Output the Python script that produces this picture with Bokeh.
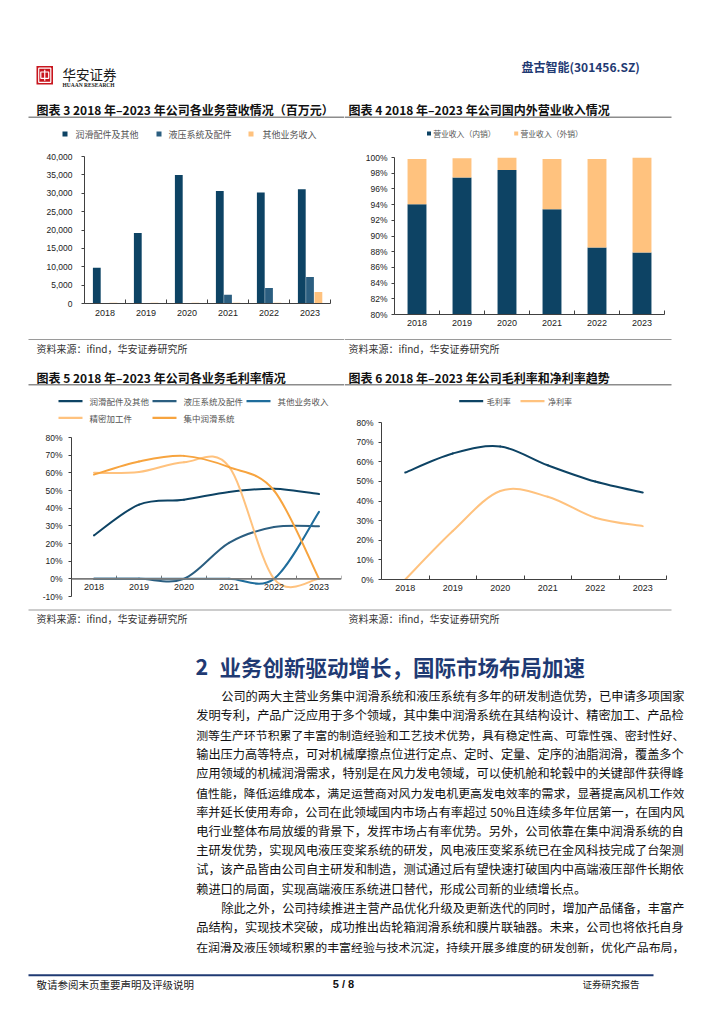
from bokeh.plotting import figure
from bokeh.models import (Range1d, FixedTicker, NumeralTickFormatter, PrintfTickFormatter,
                          Span, ColumnDataSource)
from bokeh.layouts import column, row
from bokeh.transform import dodge
from bokeh.core.properties import value
from bokeh.embed import file_html
from bokeh.resources import INLINE

# ---------------- data ----------------
years = [2018, 2019, 2020, 2021, 2022, 2023]
year_labels = ["2018", "2019", "2020", "2021", "2022", "2023"]

# 图表3 各业务营收（百万元）
rev_series = ["润滑配件及其他", "液压系统及配件", "其他业务收入"]
rev_lube = [9750, 19200, 35000, 30600, 30200, 31100]
rev_hydr = [0, 0, 0, 2400, 4200, 7200]
rev_other = [200, 200, 200, 200, 200, 3150]
rev_ticks = [0, 5000, 10000, 15000, 20000, 25000, 30000, 35000, 40000]

# 图表4 国内外营业收入占比（%）
sale_series = ["营业收入（内销）", "营业收入（外销）"]
sale_dom = [94.05, 97.45, 98.4, 93.4, 88.55, 87.9]
sale_exp = [5.75, 2.45, 1.6, 6.4, 11.25, 12.1]
share_ticks = [80, 82, 84, 86, 88, 90, 92, 94, 96, 98, 100]

# 图表5 各业务毛利率（%）
gm_series = ["润滑配件及其他", "液压系统及配件", "其他业务收入", "精密加工件", "集中润滑系统"]
gm_lube = [24.6, 42.0, 44.8, 49.2, 51.0, 48.0]
gm_hydr = [0.0, 0.0, 0.0, 20.4, 29.3, 29.8]
gm_other = [0.0, 0.0, 0.0, 0.0, 0.0, 37.9]
gm_prec = [60.0, 60.5, 66.0, 63.5, 0.0, 0.0]
gm_central = [59.0, 66.4, 69.6, 63.2, 50.0, 0.0]
gm_ticks = [-10, 0, 10, 20, 30, 40, 50, 60, 70, 80]

# 图表6 毛利率和净利率（%）
margin_series = ["毛利率", "净利率"]
gross_margin = [54.5, 64.2, 67.8, 58.2, 49.9, 44.3]
net_margin = [0.0, 24.7, 45.1, 42.2, 31.5, 27.2]
margin_ticks = [0, 10, 20, 30, 40, 50, 60, 70, 80]

body_lines = [
    "公司的两大主营业务集中润滑系统和液压系统有多年的研发制造优势，已申请多项国家",
    "发明专利，产品广泛应用于多个领域，其中集中润滑系统在其结构设计、精密加工、产品检",
    "测等生产环节积累了丰富的制造经验和工艺技术优势，具有稳定性高、可靠性强、密封性好、",
    "输出压力高等特点，可对机械摩擦点位进行定点、定时、定量、定序的油脂润滑，覆盖多个",
    "应用领域的机械润滑需求，特别是在风力发电领域，可以使机舱和轮毂中的关键部件获得峰",
    "值性能，降低运维成本，满足运营商对风力发电机更高发电效率的需求，显著提高风机工作效",
    "率并延长使用寿命，公司在此领域国内市场占有率超过 50%且连续多年位居第一，在国内风",
    "电行业整体布局放缓的背景下，发挥市场占有率优势。另外，公司依靠在集中润滑系统的自",
    "主研发优势，实现风电液压变桨系统的研发，风电液压变桨系统已在金风科技完成了台架测",
    "试，该产品皆由公司自主研发和制造，测试通过后有望快速打破国内中高端液压部件长期依",
    "赖进口的局面，实现高端液压系统进口替代，形成公司新的业绩增长点。",
    "除此之外，公司持续推进主营产品优化升级及更新迭代的同时，增加产品储备，丰富产",
    "品结构，实现技术突破，成功推出齿轮箱润滑系统和膜片联轴器。未来，公司也将依托自身",
    "在润滑及液压领域积累的丰富经验与技术沉淀，持续开展多维度的研发创新，优化产品布局，",
]
body_indent = [True, False, False, False, False, False, False, False, False, False, False,
               True, False, False]
body_justify = [True, True, True, True, True, True, True, True, True, True, False,
                True, True, True]

# ---------------- styles ----------------
NAVY = "#0d4364"
MID = "#2b5e80"
BLUE = "#1f6d9c"
LORANGE = "#ffc27e"
ORANGE = "#f7a43f"
TXT_NAVY = "#1f3a73"
AXC = "#404040"
GRAY_TXT = "#555555"
CJK = "Noto Sans CJK SC"
LAT = "Liberation Sans"

bounds = [y - 0.5 for y in years] + [years[-1] + 0.5]


def band(ox, oy, w, h):
    p = figure(width=w, height=h, x_range=Range1d(ox, ox + w), y_range=Range1d(oy + h, oy),
               output_backend="svg", toolbar_location=None, min_border=0, title=None,
               x_axis_type=None, y_axis_type=None, outline_line_color=None)
    return p


def put(p, x, y, s, size, color="#111111", bold=False, font=CJK, align="left"):
    p.text(x=[x], y=[y], text=[s], text_font=value(font), text_font_size=value(f"{size}px"),
           text_color=color, text_font_style="bold" if bold else "normal",
           text_align=align, text_baseline="middle")


def hline(p, x0, x1, y, color, width):
    p.line(x=[x0, x1], y=[y, y], line_color=color, line_width=width)


def chart(w, h, l, r, t, b, yr):
    p = figure(width=w, height=h, x_range=Range1d(bounds[0], bounds[-1]), y_range=yr,
               output_backend="svg", toolbar_location=None, title=None,
               min_border_left=l, min_border_right=r, min_border_top=t, min_border_bottom=b,
               outline_line_color=None)
    p.grid.visible = False
    p.xaxis.ticker = FixedTicker(ticks=years, minor_ticks=bounds)
    p.xaxis.major_label_overrides = dict(zip(years, year_labels))
    p.xaxis.major_tick_in = 0
    p.xaxis.major_tick_out = 0
    p.xaxis.major_tick_line_color = None
    p.xaxis.minor_tick_in = 4
    p.xaxis.minor_tick_out = 0
    p.xaxis.minor_tick_line_color = AXC
    p.xaxis.axis_line_color = AXC
    p.xaxis.major_label_text_font = LAT
    p.xaxis.major_label_text_font_size = "9px"
    p.xaxis.major_label_text_color = "#222222"
    p.yaxis.minor_tick_line_color = None
    p.yaxis.major_tick_in = 0
    p.yaxis.major_tick_out = 3
    p.yaxis.major_tick_line_color = AXC
    p.yaxis.axis_line_color = AXC
    p.yaxis.major_label_text_font = LAT
    p.yaxis.major_label_text_font_size = "8.5px"
    p.yaxis.major_label_text_color = "#222222"
    return p


def smooth(xs, ys):
    n = len(xs)
    d = dict(x0=[], y0=[], x1=[], y1=[], cx0=[], cy0=[], cx1=[], cy1=[])
    for i in range(n - 1):
        a, b = max(i - 1, 0), min(i + 2, n - 1)
        d["x0"].append(xs[i]); d["y0"].append(ys[i])
        d["x1"].append(xs[i + 1]); d["y1"].append(ys[i + 1])
        d["cx0"].append(xs[i] + (xs[i + 1] - xs[a]) / 6)
        d["cy0"].append(ys[i] + (ys[i + 1] - ys[a]) / 6)
        d["cx1"].append(xs[i + 1] - (xs[b] - xs[i]) / 6)
        d["cy1"].append(ys[i + 1] - (ys[b] - ys[i]) / 6)
    return ColumnDataSource(d)


def curve(p, ys, color, width=2.0):
    p.bezier(x0="x0", y0="y0", x1="x1", y1="y1", cx0="cx0", cy0="cy0", cx1="cx1", cy1="cy1",
             source=smooth(years, ys), line_color=color, line_width=width, line_cap="round")


def em_width(s):
    w = 0.0
    for c in s:
        if c == " ":
            w += 0.25
        elif c == "%":
            w += 0.9
        elif ord(c) < 128:
            w += 0.55
        else:
            w += 1.0
    return w


SRC = "资料来源：ifind，华安证券研究所"
OX, OY = 1, 1          # where the layout starts on the page
LW = 345 - OX          # left column width
RW = 371               # right column width

# ---------------- header band (left) ----------------
A_left = band(OX, OY, LW, 145 - OY)
A_left.quad(left=[37], right=[53.5], top=[66.5], bottom=[85], fill_color="#c8161e", line_color=None)
A_left.quad(left=[39.2], right=[51.3], top=[68.7], bottom=[82.8], fill_color=None,
            line_color="white", line_width=1.2)
A_left.quad(left=[41.3], right=[49.2], top=[72.5], bottom=[78.8], fill_color=None,
            line_color="white", line_width=1.2)
A_left.line(x=[45.25, 45.25], y=[70.3, 81.2], line_color="white", line_width=1.2)
put(A_left, 63, 74, "华安证券", 13.5, color="#1a1a1a", font=CJK)
put(A_left, 63, 85.5, "HUAAN RESEARCH", 5.5, color="#1a1a1a", bold=True, font="Liberation Serif")
put(A_left, 37, 110, "图表 3 2018 年–2023 年公司各业务营收情况（百万元）", 12, bold=True)
hline(A_left, 29, 345, 117.7, "#8c8c8c", 1.5)
rev_colors = [NAVY, MID, LORANGE]
A_left.rect(x=[65.5, 159.5, 251.5], y=[134.5] * 3, width=5, height=5, fill_color=rev_colors,
            line_color=None)
A_left.text(x=[76, 169, 263], y=[134.5] * 3, text=rev_series, text_font=value(CJK),
            text_font_size=value("9px"), text_color=GRAY_TXT, text_baseline="middle")

# ---------------- header band (right) ----------------
A_right = band(345, OY, RW, 145 - OY)
put(A_right, 522, 67.3, "盘古智能(301456.SZ)", 12, color=TXT_NAVY, bold=True)
put(A_right, 349, 110, "图表 4 2018 年–2023 年公司国内外营业收入情况", 12, bold=True)
hline(A_right, 345, 672, 117.7, "#8c8c8c", 1.5)
A_right.rect(x=[429.5, 516.7], y=[134] * 2, width=4, height=4, fill_color=[NAVY, LORANGE],
             line_color=None)
A_right.text(x=[433.7, 521], y=[134] * 2, text=sale_series, text_font=value(CJK),
             text_font_size=value("7.8px"), text_color=GRAY_TXT, text_baseline="middle")

# ---------------- chart 3 ----------------
c3 = chart(LW, 192, 85 - OX, 14, 12, 33, Range1d(0, 40000))
src3 = ColumnDataSource(dict(x=years, lube=rev_lube, hydr=rev_hydr, other=rev_other))
c3.vbar(x=dodge("x", -0.2), top="lube", width=0.19, source=src3, fill_color=NAVY, line_color=None)
c3.vbar(x=dodge("x", 0.0), top="hydr", width=0.19, source=src3, fill_color=MID, line_color=None)
c3.vbar(x=dodge("x", 0.205), top="other", width=0.19, source=src3, fill_color=LORANGE,
        line_color=None)
c3.yaxis.ticker = FixedTicker(ticks=rev_ticks)
c3.yaxis.formatter = NumeralTickFormatter(format="0,0")
c3.yaxis.major_label_standoff = 9
c3.xaxis.major_label_standoff = 6

# ---------------- chart 4 ----------------
c4 = chart(RW, 192, 50, 51, 13, 22, Range1d(80, 100))
src4 = ColumnDataSource(dict(x=years, dom=sale_dom, exp=sale_exp))
c4.vbar_stack(["dom", "exp"], x="x", width=0.42, source=src4, fill_color=[NAVY, LORANGE],
              line_color=None)
c4.yaxis.ticker = FixedTicker(ticks=share_ticks)
c4.yaxis.formatter = PrintfTickFormatter(format="%d%%")
c4.yaxis.major_label_standoff = 4
c4.xaxis.major_label_standoff = 5

# ---------------- band B (left) ----------------
B_left = band(OX, 337, LW, 91)
hline(B_left, 29, 345, 340, "#9a9a9a", 1.1)
put(B_left, 37, 349, SRC, 10, color="#333333")
put(B_left, 37, 377.5, "图表 5 2018 年–2023 年公司各业务毛利率情况", 12, bold=True)
hline(B_left, 29, 345, 385.3, "#8c8c8c", 1.5)
gm_colors = [NAVY, MID, BLUE, LORANGE, ORANGE]
leg5_x = [59, 153, 247, 59, 153]
leg5_y = [401.7, 401.7, 401.7, 418.3, 418.3]
B_left.segment(x0=leg5_x, y0=leg5_y, x1=[x + 24 for x in leg5_x], y1=leg5_y,
               line_color=gm_colors, line_width=2.2)
B_left.text(x=[x + 31 for x in leg5_x], y=leg5_y, text=gm_series, text_font=value(CJK),
            text_font_size=value("8.5px"), text_color=GRAY_TXT, text_baseline="middle")

# ---------------- band B (right) ----------------
B_right = band(345, 337, RW, 76)
hline(B_right, 345, 672, 340, "#9a9a9a", 1.1)
put(B_right, 349, 349, SRC, 10, color="#333333")
put(B_right, 349, 377.5, "图表 6 2018 年–2023 年公司毛利率和净利率趋势", 12, bold=True)
hline(B_right, 345, 672, 385.3, "#8c8c8c", 1.5)
leg6_x = [459.7, 521]
B_right.segment(x0=leg6_x, y0=[401.7] * 2, x1=[x + 24 for x in leg6_x], y1=[401.7] * 2,
                line_color=[NAVY, LORANGE], line_width=2.2)
B_right.text(x=[x + 27.5 for x in leg6_x], y=[401.7] * 2, text=margin_series,
             text_font=value(CJK), text_font_size=value("8px"), text_color=GRAY_TXT,
             text_baseline="middle")

# ---------------- chart 5 ----------------
c5 = chart(LW, 177, 72 - OX, 3, 10, 8, Range1d(-10, 80))
c5.yaxis.ticker = FixedTicker(ticks=gm_ticks)
c5.yaxis.formatter = PrintfTickFormatter(format="%d%%")
c5.yaxis.major_label_standoff = 6
c5.xaxis.axis_line_color = None
c5.xaxis.minor_tick_line_color = None
c5.xaxis.major_label_standoff = -13
c5.add_layout(Span(location=0, dimension="width", line_color="#7a7a7a", line_width=1.6))
c5.segment(x0=bounds[1:], y0=[0] * (len(bounds) - 1), x1=bounds[1:], y1=[1.8] * (len(bounds) - 1),
           line_color="#7a7a7a", line_width=1)
for ys, col in zip([gm_lube, gm_hydr, gm_other, gm_prec, gm_central], gm_colors):
    curve(c5, ys, col, 2.0)

# ---------------- chart 6 ----------------
c6 = chart(RW, 192, 37, 49, 10, 25, Range1d(0, 80))
c6.yaxis.ticker = FixedTicker(ticks=margin_ticks)
c6.yaxis.formatter = PrintfTickFormatter(format="%d%%")
c6.yaxis.major_label_standoff = 5
c6.xaxis.major_label_standoff = 5
curve(c6, gross_margin, NAVY, 2.0)
curve(c6, net_margin, LORANGE, 2.0)

# ---------------- band C (body) ----------------
C = band(OX, 605, LW + RW, 411)
hline(C, 29, 672, 610.5, "#9a9a9a", 1.1)
put(C, 37, 618.5, SRC, 10, color="#333333")
put(C, 349, 618.5, SRC, 10, color="#333333")
put(C, 196, 667, "2", 21.5, color=TXT_NAVY, bold=True)
put(C, 220, 667, "业务创新驱动增长，国际市场布局加速", 21.5, color=TXT_NAVY, bold=True)
RIGHT_EDGE = 685
for k, (s, ind, just) in enumerate(zip(body_lines, body_indent, body_justify)):
    x0 = 221.7 if ind else 196.7
    fs = 12.2
    if just:
        fs = min(12.2, (RIGHT_EDGE - x0) / em_width(s))
    put(C, x0, 696.5 + 19.25 * k, s, round(fs, 2), color="#111111")
C.line(x=[29, 654], y=[975.7, 975.7], line_color=TXT_NAVY, line_width=2)
put(C, 37, 984.6, "敬请参阅末页重要声明及评级说明", 10.5, color="#222222")
put(C, 344, 984.6, "5 / 8", 11, color="#111111", bold=True, font=LAT, align="center")
put(C, 583, 984.6, "证券研究报告", 9.5, color="#222222")

# each plot in its own row, so that the columns do not align the plots' borders
left_col = column(row(A_left), row(c3), row(B_left), row(c5))
right_col = column(row(A_right), row(c4), row(B_right), row(c6))
layout = column(row(left_col, right_col), row(C))

open("out.html", "w").write(file_html(layout, INLINE))
